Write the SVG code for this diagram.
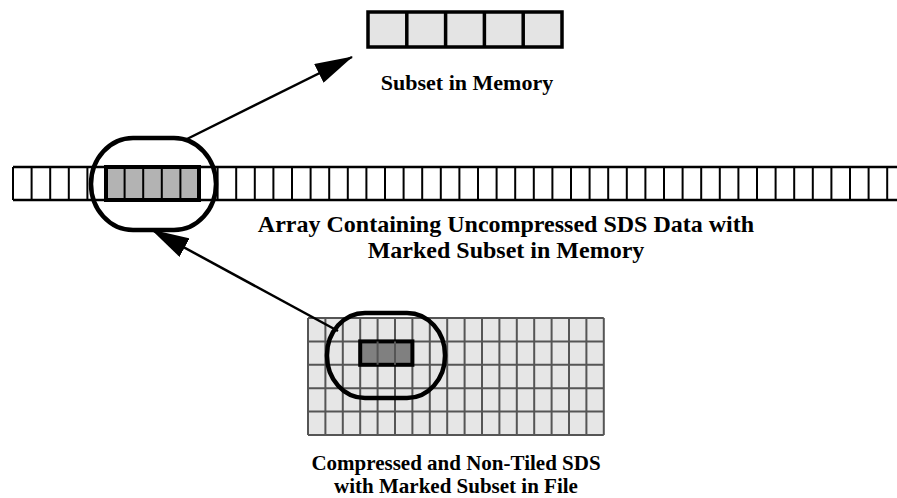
<svg xmlns="http://www.w3.org/2000/svg" width="897" height="498" viewBox="0 0 897 498">
<defs>
<style>
.lbl{font-family:"Liberation Serif","Times New Roman",serif;font-weight:bold;fill:#000;text-anchor:middle}
.hl{fill:none;stroke:#000;stroke-width:4.5}
.cellline{stroke:#000;stroke-width:2}
.gridline{stroke:#555;stroke-width:2}
.conn{stroke:#000;stroke-width:2.5;fill:none;marker-end:url(#ah)}
</style>
<marker id="ah" markerUnits="userSpaceOnUse" markerWidth="38" markerHeight="21" refX="37" refY="10.5" orient="auto" viewBox="0 0 38 21">
<path d="M0,0 L38,10.5 L0,21 z" fill="#000"/>
</marker>
</defs>
<rect width="897" height="498" fill="#fff"/>

<g id="subset-memory">
<rect x="368" y="12" width="194" height="35" fill="#e4e4e4" stroke="#000" stroke-width="3.5"/>
<path d="M406.8,12V47M445.6,12V47M484.4,12V47M523.2,12V47" stroke="#000" stroke-width="3.5"/>
<text class="lbl" x="467" y="90" font-size="22">Subset in Memory</text>
</g>

<g id="memory-array">
<path d="M13,167H897M13,200H897" stroke="#000" stroke-width="2.5"/>
<path class="cellline" d="M13,167V200M31.6,167V200M50.2,167V200M68.8,167V200M87.4,167V200M217.6,167V200M236.2,167V200M254.8,167V200M273.4,167V200M292,167V200M310.6,167V200M329.2,167V200M347.8,167V200M366.4,167V200M385,167V200M403.6,167V200M422.2,167V200M440.8,167V200M459.4,167V200M478,167V200M496.6,167V200M515.2,167V200M533.8,167V200M552.4,167V200M571,167V200M589.6,167V200M608.2,167V200M626.8,167V200M645.4,167V200M664,167V200M682.6,167V200M701.2,167V200M719.8,167V200M738.4,167V200M757,167V200M775.6,167V200M794.2,167V200M812.8,167V200M831.4,167V200M850,167V200M868.6,167V200M887.2,167V200"/>
<rect x="106" y="167" width="93" height="33" fill="#b3b3b3" stroke="#000" stroke-width="4"/>
<path class="cellline" d="M124.6,167V200M143.2,167V200M161.8,167V200M180.4,167V200"/>
<rect class="hl" x="91" y="138" width="125" height="92" rx="42" ry="46"/>
<text class="lbl" x="506" y="232" font-size="24">Array Containing Uncompressed SDS Data with</text>
<text class="lbl" x="506" y="258" font-size="24">Marked Subset in Memory</text>
</g>

<g id="file-sds">
<rect x="308" y="318" width="295.8" height="117" fill="#e6e6e6"/>
<path class="gridline" d="M308,318H603.8M308,341.4H603.8M308,364.8H603.8M308,388.2H603.8M308,411.6H603.8M308,435H603.8M308,318V435M325.4,318V435M342.8,318V435M360.2,318V435M377.6,318V435M395,318V435M412.4,318V435M429.8,318V435M447.2,318V435M464.6,318V435M482,318V435M499.4,318V435M516.8,318V435M534.2,318V435M551.6,318V435M569,318V435M586.4,318V435M603.8,318V435"/>
<rect x="360.2" y="341.4" width="52.2" height="23.4" fill="#808080" stroke="#000" stroke-width="4"/>
<path class="gridline" d="M377.6,341.4V364.8M395,341.4V364.8"/>
<rect class="hl" x="327" y="313" width="118" height="85" rx="38" ry="42"/>
<text class="lbl" x="456" y="470" font-size="21">Compressed and Non-Tiled SDS</text>
<text class="lbl" x="456" y="493.3" font-size="21">with Marked Subset in File</text>
</g>

<g id="connectors">
<path class="conn" d="M185,140L352,57"/>
<path class="conn" d="M338,331L152,230"/>
</g>
</svg>
